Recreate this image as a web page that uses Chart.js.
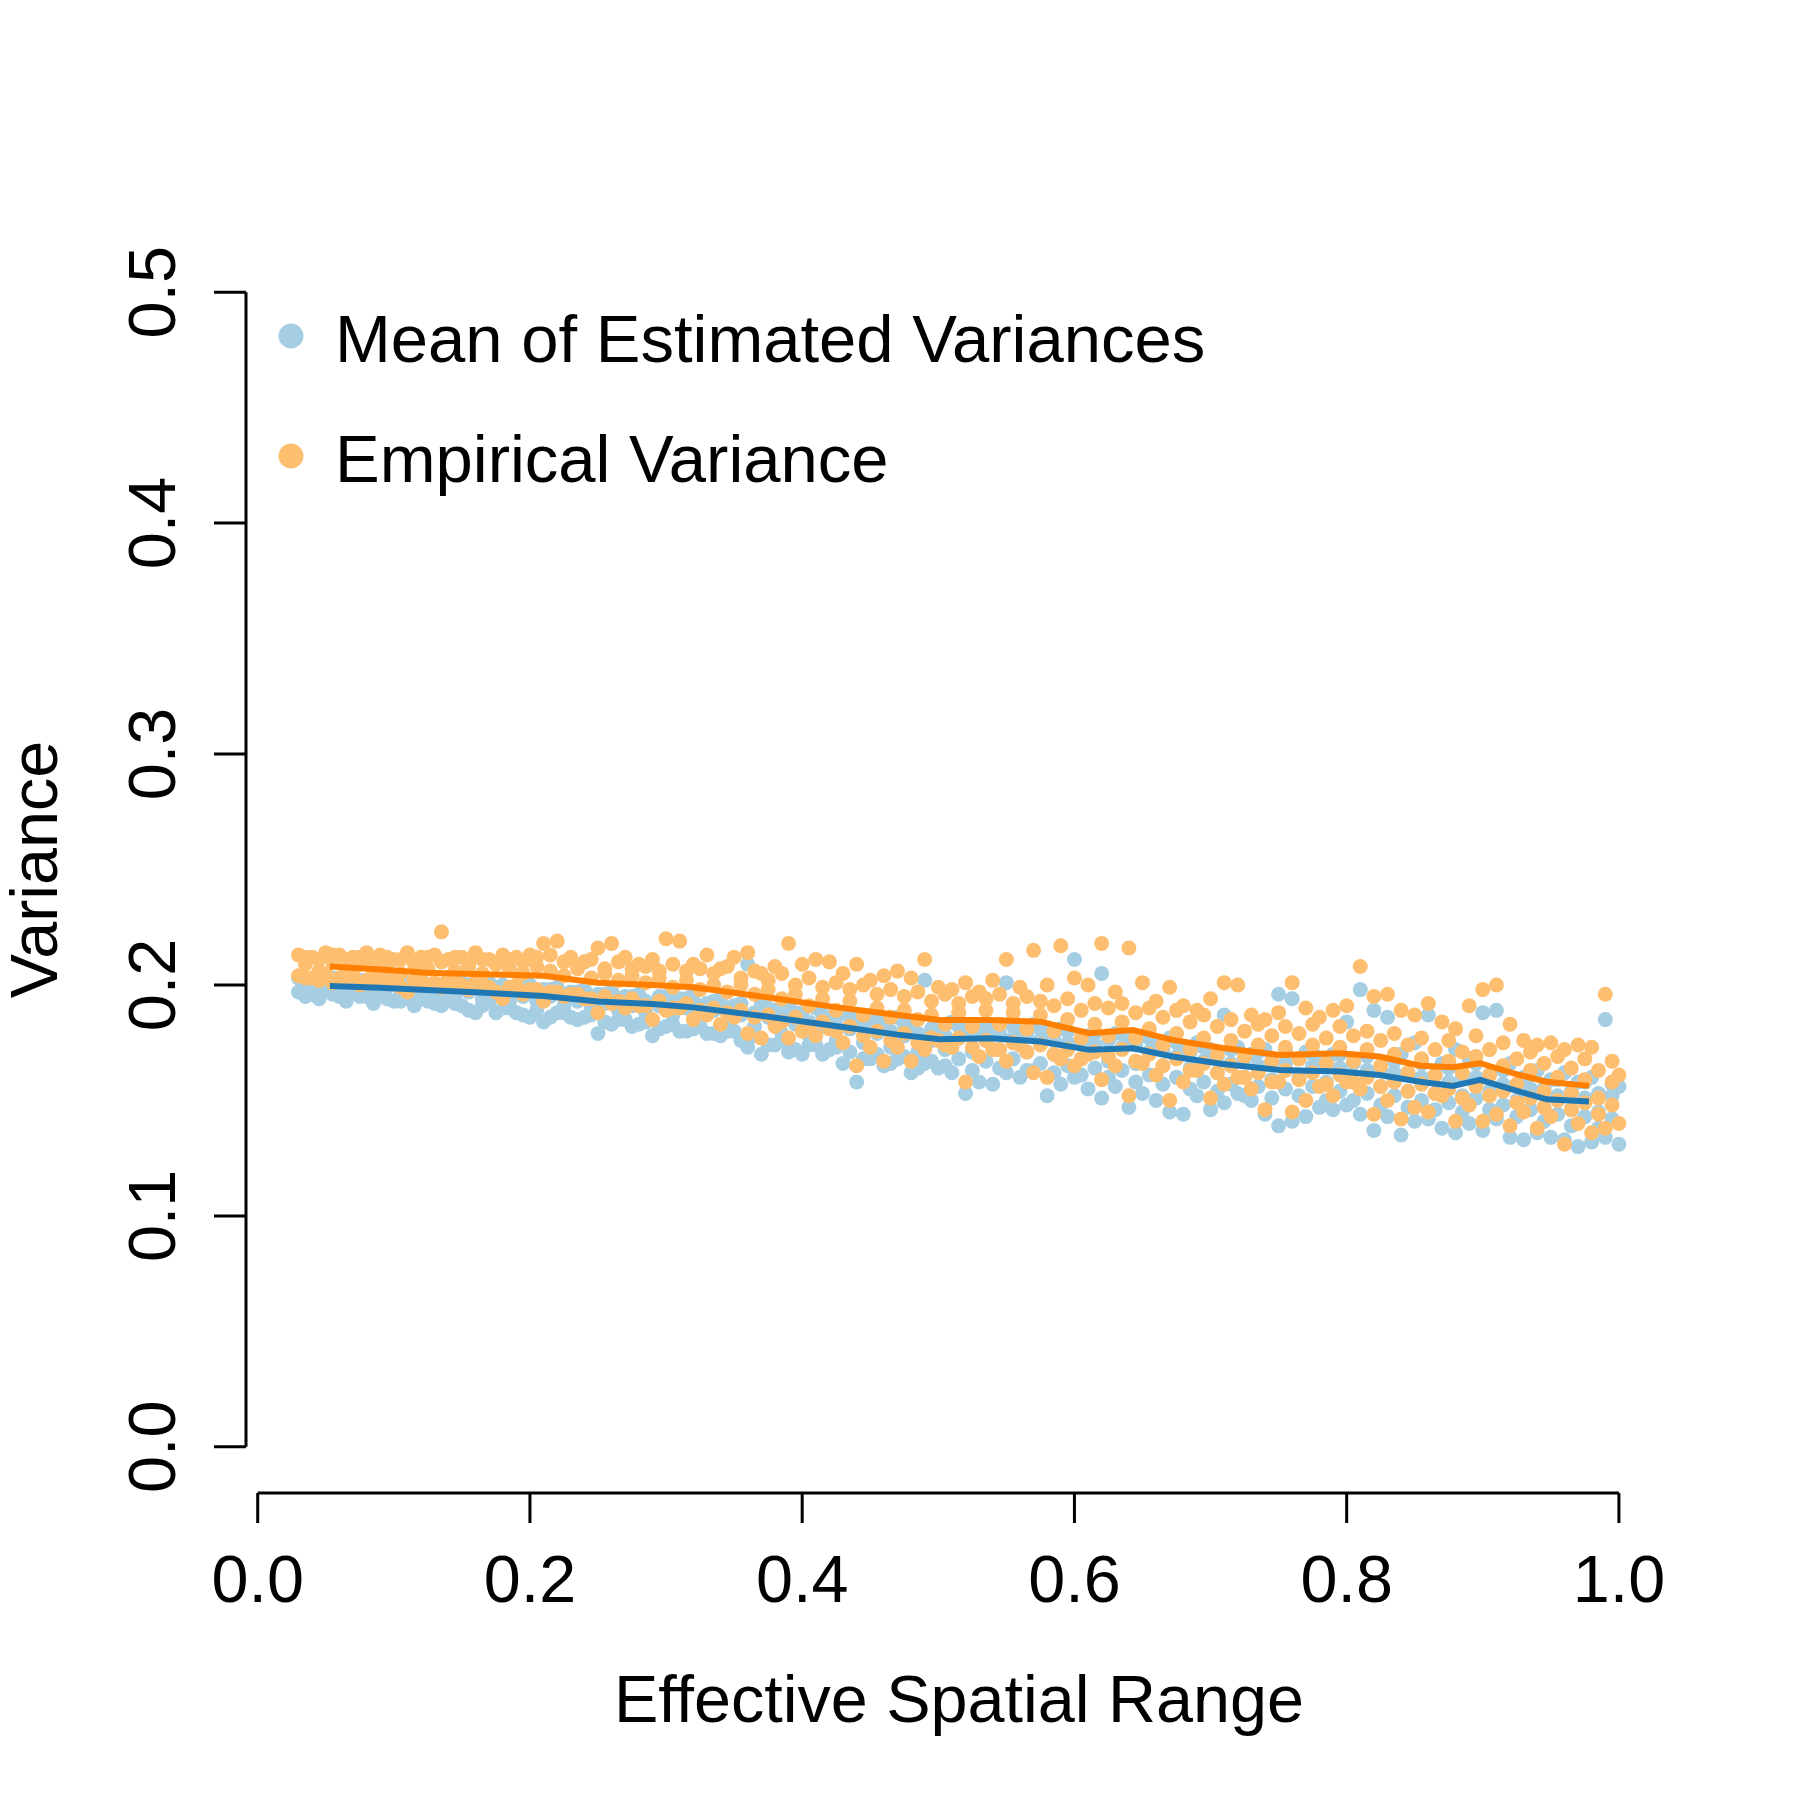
<!DOCTYPE html>
<html>
<head>
<meta charset="utf-8">
<script src="https://cdn.jsdelivr.net/npm/chart.js@4.4.1/dist/chart.umd.min.js"></script>
<style>
  html, body { margin: 0; padding: 0; background: #fff; }
  canvas { display: block; }
</style>
</head>
<body>
<canvas id="varChart" width="1800" height="1800"></canvas>
<script>
// x positions (effective spatial range)
const xs = [
  0.03,0.04,0.05,0.06,0.07,0.08,0.09,0.10,0.11,0.12,
  0.13,0.14,0.15,0.16,0.17,0.18,0.19,0.20,0.21,0.22,
  0.23,0.24,0.25,0.26,0.27,0.28,0.29,0.30,0.31,0.32,
  0.33,0.34,0.35,0.36,0.37,0.38,0.39,0.40,0.41,0.42,
  0.43,0.44,0.45,0.46,0.47,0.48,0.49,0.50,0.51,0.52,
  0.53,0.54,0.55,0.56,0.57,0.58,0.59,0.60,0.61,0.62,
  0.63,0.64,0.65,0.66,0.67,0.68,0.69,0.70,0.71,0.72,
  0.73,0.74,0.75,0.76,0.77,0.78,0.79,0.80,0.81,0.82,
  0.83,0.84,0.85,0.86,0.87,0.88,0.89,0.90,0.91,0.92,
  0.93,0.94,0.95,0.96,0.97,0.98,0.99,1.00
];
const xsHalf = [
  0.035,0.045,0.055,0.065,0.075,0.085,0.095,0.105,0.115,0.125,
  0.135,0.145,0.155,0.165,0.175,0.185,0.195,0.205,0.215,0.225,
  0.235,0.245,0.255,0.265,0.275,0.285,0.295,0.305,0.315,0.325,
  0.335,0.345,0.355,0.365,0.375,0.385,0.395,0.405,0.415,0.425,
  0.435,0.445,0.455,0.465,0.475,0.485,0.495,0.505,0.515,0.525,
  0.535,0.545,0.555,0.565,0.575,0.585,0.595,0.605,0.615,0.625,
  0.635,0.645,0.655,0.665,0.675,0.685,0.695,0.705,0.715,0.725,
  0.735,0.745,0.755,0.765,0.775,0.785,0.795,0.805,0.815,0.825,
  0.835,0.845,0.855,0.865,0.875,0.885,0.895,0.905,0.915,0.925,
  0.935,0.945,0.955,0.965,0.975,0.985,0.995
];

// Mean of estimated variances (light blue points)
const estHi = [
  0.203,0.202,0.204,0.202,0.203,0.201,0.203,0.202,0.201,0.203,
  0.200,0.202,0.201,0.199,0.201,0.200,0.199,0.200,0.198,0.199,
  0.197,0.198,0.196,0.197,0.195,0.196,0.209,0.195,0.194,0.196,
  0.192,0.194,0.191,0.209,0.192,0.189,0.191,0.188,0.190,0.186,
  0.188,0.185,0.187,0.184,0.186,0.183,0.202,0.182,0.184,0.180,
  0.183,0.181,0.201,0.180,0.183,0.179,0.181,0.211,0.178,0.205,
  0.179,0.176,0.178,0.175,0.177,0.173,0.175,0.172,0.187,0.173,
  0.170,0.172,0.196,0.194,0.171,0.168,0.170,0.184,0.198,0.189,
  0.186,0.170,0.175,0.187,0.166,0.172,0.168,0.188,0.189,0.166,
  0.160,0.163,0.159,0.162,0.158,0.160,0.185,0.156
];
const estUp = [
  0.202,0.201,0.203,0.201,0.202,0.200,0.201,0.200,0.201,0.199,
  0.200,0.199,0.200,0.198,0.199,0.198,0.199,0.197,0.198,0.196,
  0.197,0.195,0.196,0.194,0.195,0.193,0.195,0.192,0.194,0.191,
  0.193,0.190,0.192,0.188,0.190,0.186,0.188,0.184,0.187,0.183,
  0.186,0.182,0.184,0.180,0.183,0.179,0.181,0.178,0.182,0.178,
  0.183,0.179,0.182,0.178,0.181,0.176,0.180,0.175,0.179,0.176,
  0.179,0.174,0.177,0.172,0.175,0.171,0.173,0.169,0.172,0.168,
  0.171,0.167,0.172,0.168,0.171,0.166,0.170,0.166,0.169,0.164,
  0.167,0.162,0.166,0.161,0.164,0.160,0.166,0.161,0.163,0.157,
  0.161,0.155,0.159,0.154,0.158,0.153,0.157
];
const estMid = [
  0.199,0.198,0.200,0.198,0.199,0.197,0.199,0.196,0.198,0.196,
  0.197,0.195,0.197,0.194,0.196,0.193,0.195,0.193,0.195,0.191,
  0.193,0.190,0.192,0.189,0.191,0.188,0.191,0.187,0.190,0.186,
  0.189,0.184,0.187,0.182,0.186,0.179,0.183,0.178,0.182,0.176,
  0.181,0.175,0.179,0.173,0.178,0.171,0.176,0.172,0.177,0.171,
  0.178,0.172,0.177,0.171,0.176,0.170,0.175,0.168,0.174,0.167,
  0.173,0.166,0.171,0.165,0.169,0.164,0.167,0.162,0.166,0.160,
  0.165,0.159,0.166,0.160,0.165,0.158,0.164,0.158,0.163,0.156,
  0.162,0.154,0.160,0.153,0.158,0.152,0.160,0.154,0.157,0.150,
  0.155,0.147,0.152,0.146,0.151,0.145,0.152
];
const estDown = [
  0.195,0.194,0.196,0.193,0.195,0.192,0.194,0.193,0.191,0.193,
  0.191,0.192,0.189,0.191,0.188,0.190,0.187,0.189,0.186,0.188,
  0.185,0.187,0.184,0.185,0.182,0.184,0.181,0.183,0.180,0.182,
  0.179,0.180,0.176,0.178,0.174,0.176,0.172,0.174,0.170,0.173,
  0.171,0.168,0.170,0.166,0.169,0.164,0.167,0.165,0.168,0.163,
  0.167,0.164,0.168,0.163,0.166,0.162,0.165,0.161,0.164,0.160,
  0.163,0.158,0.161,0.157,0.160,0.155,0.158,0.154,0.157,0.152,
  0.156,0.151,0.155,0.152,0.156,0.150,0.154,0.150,0.153,0.148,
  0.152,0.147,0.150,0.146,0.149,0.145,0.151,0.146,0.148,0.143,
  0.146,0.141,0.144,0.139,0.143,0.138,0.142
];
const estLo = [
  0.197,0.196,0.198,0.195,0.197,0.195,0.196,0.193,0.195,0.194,
  0.192,0.194,0.191,0.188,0.193,0.190,0.188,0.186,0.184,0.188,
  0.186,0.186,0.179,0.183,0.185,0.183,0.178,0.182,0.180,0.181,
  0.179,0.178,0.180,0.173,0.170,0.174,0.171,0.170,0.174,0.172,
  0.166,0.158,0.168,0.165,0.168,0.162,0.166,0.164,0.162,0.153,
  0.158,0.157,0.162,0.160,0.163,0.152,0.157,0.160,0.155,0.151,
  0.156,0.147,0.153,0.150,0.145,0.144,0.152,0.146,0.149,0.153,
  0.150,0.144,0.139,0.141,0.143,0.147,0.146,0.148,0.144,0.137,
  0.143,0.135,0.141,0.142,0.138,0.136,0.140,0.137,0.142,0.134,
  0.133,0.136,0.134,0.133,0.130,0.132,0.134,0.131
];

// Empirical variance (light orange points)
const empHi = [
  0.213,0.212,0.214,0.213,0.212,0.214,0.213,0.211,0.214,0.212,
  0.213,0.211,0.212,0.214,0.211,0.213,0.212,0.213,0.218,0.219,
  0.212,0.210,0.216,0.218,0.212,0.209,0.211,0.220,0.219,0.209,
  0.213,0.207,0.212,0.214,0.205,0.208,0.218,0.209,0.211,0.210,
  0.205,0.209,0.202,0.204,0.206,0.203,0.211,0.199,0.198,0.201,
  0.197,0.202,0.211,0.199,0.215,0.200,0.217,0.203,0.200,0.218,
  0.197,0.216,0.201,0.193,0.199,0.191,0.189,0.194,0.201,0.200,
  0.187,0.185,0.188,0.201,0.190,0.186,0.189,0.191,0.208,0.195,
  0.196,0.189,0.187,0.192,0.184,0.181,0.191,0.198,0.200,0.183,
  0.176,0.174,0.175,0.172,0.174,0.173,0.196,0.161
];
const empUp = [
  0.212,0.211,0.213,0.211,0.212,0.210,0.212,0.211,0.210,0.212,
  0.210,0.212,0.210,0.211,0.209,0.211,0.210,0.212,0.213,0.210,
  0.208,0.211,0.207,0.210,0.207,0.208,0.206,0.209,0.206,0.207,
  0.205,0.208,0.203,0.206,0.202,0.205,0.200,0.203,0.199,0.201,
  0.198,0.200,0.196,0.198,0.195,0.197,0.193,0.196,0.192,0.195,
  0.194,0.196,0.192,0.195,0.193,0.191,0.194,0.189,0.192,0.190,
  0.192,0.188,0.190,0.186,0.189,0.184,0.187,0.182,0.185,0.180,
  0.183,0.178,0.182,0.179,0.183,0.177,0.182,0.178,0.180,0.176,
  0.179,0.174,0.177,0.172,0.176,0.171,0.178,0.172,0.175,0.168,
  0.171,0.166,0.169,0.164,0.168,0.163,0.167
];
const empMid = [
  0.209,0.206,0.210,0.207,0.209,0.206,0.208,0.205,0.209,0.207,
  0.223,0.206,0.208,0.205,0.209,0.207,0.205,0.208,0.206,0.204,
  0.207,0.203,0.205,0.202,0.204,0.201,0.203,0.199,0.202,0.198,
  0.200,0.197,0.200,0.196,0.198,0.194,0.196,0.191,0.194,0.189,
  0.193,0.187,0.190,0.186,0.189,0.185,0.187,0.183,0.188,0.182,
  0.189,0.183,0.188,0.181,0.187,0.180,0.185,0.177,0.183,0.178,
  0.184,0.177,0.181,0.174,0.179,0.172,0.177,0.170,0.176,0.169,
  0.174,0.167,0.173,0.168,0.174,0.166,0.173,0.167,0.172,0.165,
  0.170,0.162,0.168,0.161,0.167,0.162,0.169,0.161,0.165,0.157,
  0.163,0.154,0.160,0.153,0.159,0.151,0.158
];
const empDown = [
  0.203,0.202,0.201,0.203,0.200,0.202,0.201,0.199,0.202,0.200,
  0.199,0.201,0.198,0.200,0.197,0.199,0.196,0.198,0.197,0.195,
  0.196,0.194,0.195,0.193,0.194,0.191,0.193,0.190,0.192,0.189,
  0.190,0.188,0.189,0.186,0.187,0.184,0.186,0.182,0.184,0.180,
  0.182,0.178,0.180,0.176,0.179,0.175,0.177,0.174,0.177,0.173,
  0.176,0.172,0.175,0.171,0.174,0.170,0.172,0.168,0.171,0.169,
  0.172,0.167,0.170,0.165,0.168,0.163,0.166,0.162,0.165,0.160,
  0.162,0.158,0.163,0.159,0.162,0.157,0.161,0.158,0.160,0.156,
  0.158,0.154,0.157,0.153,0.155,0.151,0.156,0.152,0.154,0.149,
  0.151,0.147,0.150,0.146,0.149,0.144,0.148
];
const empLo = [
  0.204,0.203,0.205,0.203,0.204,0.202,0.204,0.203,0.197,0.202,
  0.201,0.203,0.200,0.201,0.199,0.194,0.200,0.198,0.193,0.197,
  0.196,0.194,0.188,0.192,0.190,0.191,0.185,0.189,0.190,0.185,
  0.187,0.183,0.186,0.179,0.177,0.182,0.177,0.180,0.178,0.181,
  0.175,0.165,0.173,0.167,0.173,0.167,0.172,0.176,0.173,0.158,
  0.169,0.172,0.167,0.174,0.162,0.160,0.168,0.165,0.170,0.159,
  0.165,0.152,0.166,0.161,0.150,0.158,0.163,0.151,0.157,0.160,
  0.155,0.146,0.158,0.145,0.150,0.156,0.152,0.158,0.155,0.144,
  0.150,0.142,0.147,0.145,0.152,0.141,0.148,0.141,0.144,0.139,
  0.145,0.138,0.143,0.131,0.140,0.136,0.138,0.140
];

// smoothed curves
const lineX = [0.053,0.09,0.124,0.16,0.21,0.25,0.29,0.32,0.374,0.423,
  0.47,0.501,0.538,0.575,0.611,0.643,0.672,0.709,0.751,0.795,
  0.824,0.854,0.878,0.898,0.927,0.947,0.978];
const empLine = [0.208,0.2067,0.2053,0.2048,0.204,0.201,0.2,0.199,0.1947,0.1905,
  0.187,0.1848,0.1848,0.1841,0.1791,0.1805,0.1762,0.1727,0.1697,0.1704,
  0.169,0.165,0.1644,0.1661,0.161,0.1581,0.1563];
const estLine = [0.1996,0.1988,0.1978,0.1968,0.1952,0.1928,0.1918,0.1903,0.1863,0.1823,
  0.1785,0.1765,0.1769,0.1755,0.1719,0.1726,0.169,0.1658,0.1632,0.1625,
  0.161,0.1581,0.1563,0.1589,0.1538,0.1505,0.1495];

const xTicks = [0, 0.2, 0.4, 0.6, 0.8, 1.0];
const xTickLabels = ['0.0', '0.2', '0.4', '0.6', '0.8', '1.0'];
const yTicks = [0, 0.1, 0.2, 0.3, 0.4, 0.5];
const yTickLabels = ['0.0', '0.1', '0.2', '0.3', '0.4', '0.5'];
const legendLabels = ['Mean of Estimated Variances', 'Empirical Variance'];

const LIGHT_BLUE = '#A6CEE3';
const LIGHT_ORANGE = '#FDBF6F';
const DARK_BLUE = '#1F78B4';
const DARK_ORANGE = '#FF7F00';
const FAMILY = '"Liberation Sans", Arial, Helvetica, sans-serif';

function pts(xv, yv) {
  return xv.map((x, i) => ({ x: x, y: yv[i] }));
}

function dots(data, color, order) {
  return {
    type: 'scatter', data: data, order: order,
    pointRadius: 7.5, pointBorderWidth: 0,
    pointBackgroundColor: color, backgroundColor: color, borderColor: color
  };
}

// R-style axes, labels and legend
const baseGraphics = {
  id: 'baseGraphics',
  afterDraw(chart) {
    const { ctx, chartArea: a } = chart;
    const x = chart.scales.x, y = chart.scales.y;
    ctx.save();
    ctx.strokeStyle = '#000';
    ctx.lineWidth = 3;
    ctx.beginPath();
    ctx.moveTo(x.getPixelForValue(0), a.bottom);
    ctx.lineTo(x.getPixelForValue(1), a.bottom);
    xTicks.forEach(t => {
      const px = x.getPixelForValue(t);
      ctx.moveTo(px, a.bottom);
      ctx.lineTo(px, a.bottom + 30);
    });
    ctx.moveTo(a.left, y.getPixelForValue(0));
    ctx.lineTo(a.left, y.getPixelForValue(0.5));
    yTicks.forEach(t => {
      const py = y.getPixelForValue(t);
      ctx.moveTo(a.left, py);
      ctx.lineTo(a.left - 32, py);
    });
    ctx.stroke();

    ctx.fillStyle = '#000';
    ctx.font = '66.5px ' + FAMILY;
    ctx.textBaseline = 'alphabetic';
    ctx.textAlign = 'center';
    xTicks.forEach((t, i) => ctx.fillText(xTickLabels[i], x.getPixelForValue(t), 1602));
    ctx.fillText('Effective Spatial Range', (a.left + a.right) / 2, 1722);

    yTicks.forEach((t, i) => {
      ctx.save();
      ctx.translate(175, y.getPixelForValue(t));
      ctx.rotate(-Math.PI / 2);
      ctx.fillText(yTickLabels[i], 0, 0);
      ctx.restore();
    });
    ctx.save();
    ctx.translate(57, (a.top + a.bottom) / 2);
    ctx.rotate(-Math.PI / 2);
    ctx.fillText('Variance', 0, 0);
    ctx.restore();

    // legend
    const legendColors = [LIGHT_BLUE, LIGHT_ORANGE];
    const rows = [336, 456];
    ctx.font = '67px ' + FAMILY;
    ctx.textAlign = 'left';
    legendLabels.forEach((lab, i) => {
      ctx.fillStyle = legendColors[i];
      ctx.beginPath();
      ctx.arc(291, rows[i], 12.5, 0, Math.PI * 2);
      ctx.fill();
      ctx.fillStyle = '#000';
      ctx.fillText(lab, 335, rows[i] + 26);
    });
    ctx.restore();
  }
};

new Chart(document.getElementById('varChart'), {
  type: 'scatter',
  data: {
    datasets: [
      {
        type: 'line', data: pts(lineX, empLine), order: 0,
        borderColor: DARK_ORANGE, borderWidth: 6, pointRadius: 0, tension: 0, fill: false
      },
      {
        type: 'line', data: pts(lineX, estLine), order: 1,
        borderColor: DARK_BLUE, borderWidth: 6, pointRadius: 0, tension: 0, fill: false
      },
      dots(pts(xs, empHi), LIGHT_ORANGE, 2),
      dots(pts(xsHalf, empUp), LIGHT_ORANGE, 2),
      dots(pts(xsHalf, empMid), LIGHT_ORANGE, 2),
      dots(pts(xsHalf, empDown), LIGHT_ORANGE, 2),
      dots(pts(xs, empLo), LIGHT_ORANGE, 2),
      dots(pts(xs, estHi), LIGHT_BLUE, 3),
      dots(pts(xsHalf, estUp), LIGHT_BLUE, 3),
      dots(pts(xsHalf, estMid), LIGHT_BLUE, 3),
      dots(pts(xsHalf, estDown), LIGHT_BLUE, 3),
      dots(pts(xs, estLo), LIGHT_BLUE, 3)
    ]
  },
  options: {
    responsive: false,
    animation: false,
    devicePixelRatio: 1,
    events: [],
    layout: { padding: { left: 246, top: 246, right: 128, bottom: 307 } },
    plugins: { legend: { display: false }, tooltip: { enabled: false } },
    scales: {
      x: { type: 'linear', min: -0.0086, max: 1.039, display: false },
      y: { type: 'linear', min: -0.02, max: 0.52, display: false }
    }
  },
  plugins: [baseGraphics]
});
</script>
</body>
</html>
